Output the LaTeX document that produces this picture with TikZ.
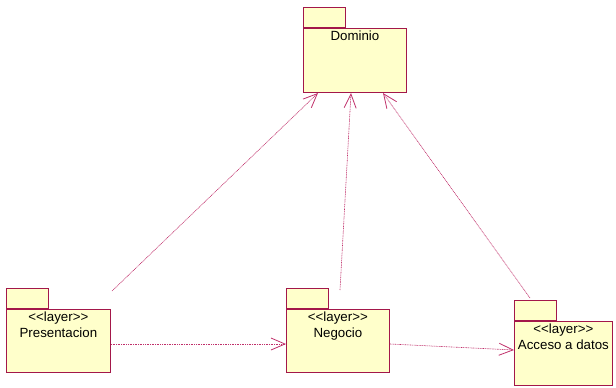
\documentclass[tikz,border=0pt]{standalone}
\usepackage{fontspec}
\setmainfont{Liberation Sans}
\usepackage{tikz}
\usetikzlibrary{positioning,arrows.meta}
\definecolor{pkgline}{HTML}{A3174A}
\definecolor{pkgfill}{HTML}{FFFFCB}
\definecolor{depline}{HTML}{C0306A}
\newcommand{\stlayer}{{<}{<}layer{>}{>}}

\begin{document}
\begin{tikzpicture}[x=1pt,y=-1pt,
  body/.style={draw=pkgline,fill=pkgfill,line width=0.8pt,inner sep=0pt,anchor=north west},
  tab/.style={draw=pkgline,fill=pkgfill,line width=0.8pt,inner sep=0pt,anchor=south west,minimum width=42,minimum height=20},
  txt/.style={inner sep=0pt,align=center,font=\fontsize{13.3}{15.5}\selectfont},
  dep/.style={draw=depline,line width=0.6pt,dash pattern=on 1pt off 0.7pt,-{Straight Barb[length=14pt,width=12pt,line width=0.8pt]}}]
\useasboundingbox (0,0) rectangle (616,388);
\node[body,minimum width=103,minimum height=64] (dom) at (303,28) {};
\node[tab] (dom-tab) at (dom.north west) {};
\node[txt,below=3pt of dom.north] {Dominio};
\node[body,minimum width=104,minimum height=63] (pres) at (6,309) {};
\node[tab] (pres-tab) at (pres.north west) {};
\node[txt,below=3pt of pres.north] {\stlayer\\Presentacion};
\node[body,minimum width=103,minimum height=63] (neg) at (286,309) {};
\node[tab] (neg-tab) at (neg.north west) {};
\node[txt,below=3pt of neg.north] {\stlayer\\Negocio};
\node[body,minimum width=98,minimum height=64] (acc) at (514,321) {};
\node[tab] (acc-tab) at (acc.north west) {};
\node[txt,below=3pt of acc.north] {\stlayer\\Acceso a datos};
\coordinate (pres-up) at (112,291);
\coordinate (neg-up) at (340,290);
\coordinate (acc-up) at (530,298);
\coordinate (dom-a) at (318,93);
\coordinate (dom-b) at (351,93);
\coordinate (dom-c) at (383,93);
\draw[dep] (pres-up) -- (dom-a);
\draw[dep] (neg-up) -- (dom-b);
\draw[dep] (acc-up) -- (dom-c);
\draw[dep] (pres.east |- 0,344) -- (neg.west |- 0,344);
\draw[dep] (neg.east |- 0,344) -- (acc.west |- 0,350);
\end{tikzpicture}
\end{document}
